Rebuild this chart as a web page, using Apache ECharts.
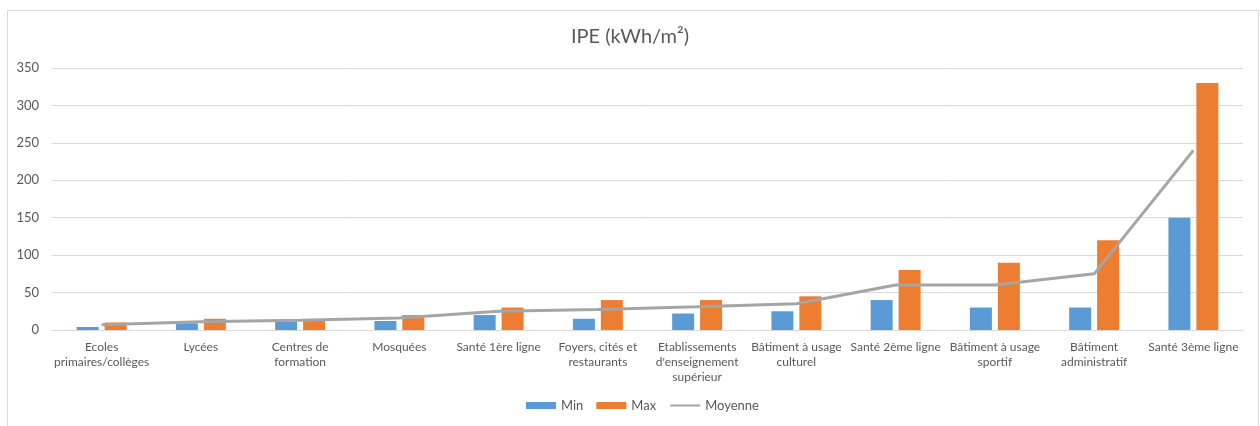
<!DOCTYPE html>
<html>
<head>
<meta charset="utf-8">
<script src="https://cdn.jsdelivr.net/npm/echarts@6/dist/echarts.min.js"></script>
<style>
  html, body { margin: 0; padding: 0; background: #ffffff; }
  #chart { width: 1260px; height: 426px; }
</style>
</head>
<body>
<div id="chart"></div>
<script>
// Building categories (label text, with line breaks as displayed)
const categories = [
  'Ecoles\nprimaires/collèges',
  'Lycées',
  'Centres de\nformation',
  'Mosquées',
  'Santé 1ère ligne',
  'Foyers, cités et\nrestaurants',
  'Etablissements\nd\'enseignement\nsupérieur',
  'Bâtiment à usage\nculturel',
  'Santé 2ème ligne',
  'Bâtiment à usage\nsportif',
  'Bâtiment\nadministratif',
  'Santé 3ème ligne'
];

// IPE values in kWh/m²
const minValues = [4, 9, 11, 12, 20, 15, 22, 25, 40, 30, 30, 150];
const maxValues = [10, 15, 12, 20, 30, 40, 40, 45, 80, 90, 120, 330];
const avgValues = [7, 11, 13, 16, 25, 27.5, 31, 35, 60, 60, 75, 240];

const yTicks = { min: 0, max: 350, interval: 50 };

const textFont = 'Lato, "Liberation Sans", sans-serif';

const chart = echarts.init(document.getElementById('chart'), null, { renderer: 'canvas' });

chart.setOption({
  animation: false,
  backgroundColor: '#ffffff',
  textStyle: { fontFamily: textFont },
  graphic: [{
    type: 'rect',
    shape: { x: 7.5, y: 10.5, width: 1251, height: 430 },
    style: { fill: 'none', stroke: '#d9d9d9', lineWidth: 1 },
    silent: true,
    z: -1
  }],
  title: {
    text: 'IPE (kWh/m²)',
    left: 'center',
    top: 22,
    textStyle: { fontFamily: textFont, fontSize: 20, fontWeight: 'normal', color: '#595959' }
  },
  legend: {
    bottom: 9,
    left: 521,
    itemWidth: 30,
    itemHeight: 7,
    itemGap: 13,
    textStyle: { fontFamily: textFont, fontSize: 13, color: '#595959' },
    data: [
      { name: 'Min', icon: 'rect' },
      { name: 'Max', icon: 'rect' },
      { name: 'Moyenne', itemStyle: { opacity: 0 } }
    ]
  },
  grid: { left: 52, right: 17, top: 68, bottom: 96, containLabel: false },
  xAxis: {
    type: 'category',
    data: categories,
    boundaryGap: true,
    axisLine: { show: true, lineStyle: { color: '#d9d9d9', width: 1 } },
    axisTick: { show: false },
    axisLabel: {
      interval: 0,
      margin: 10,
      fontFamily: textFont,
      fontSize: 12,
      lineHeight: 15,
      color: '#595959'
    }
  },
  yAxis: {
    type: 'value',
    min: yTicks.min,
    max: yTicks.max,
    interval: yTicks.interval,
    axisLine: { show: false },
    axisTick: { show: false },
    splitLine: { lineStyle: { color: '#d9d9d9', width: 1 } },
    axisLabel: { margin: 13, fontFamily: textFont, fontSize: 13, color: '#595959' }
  },
  series: [
    {
      name: 'Min',
      type: 'bar',
      data: minValues,
      barWidth: 22,
      barGap: '27%',
      itemStyle: { color: '#5b9bd5' }
    },
    {
      name: 'Max',
      type: 'bar',
      data: maxValues,
      barWidth: 22,
      barGap: '27%',
      itemStyle: { color: '#ed7d31' }
    },
    {
      name: 'Moyenne',
      type: 'line',
      data: avgValues,
      symbol: 'none',
      lineStyle: { color: '#a5a5a5', width: 3 },
      itemStyle: { color: '#a5a5a5' },
      z: 3
    }
  ]
});
</script>
</body>
</html>
